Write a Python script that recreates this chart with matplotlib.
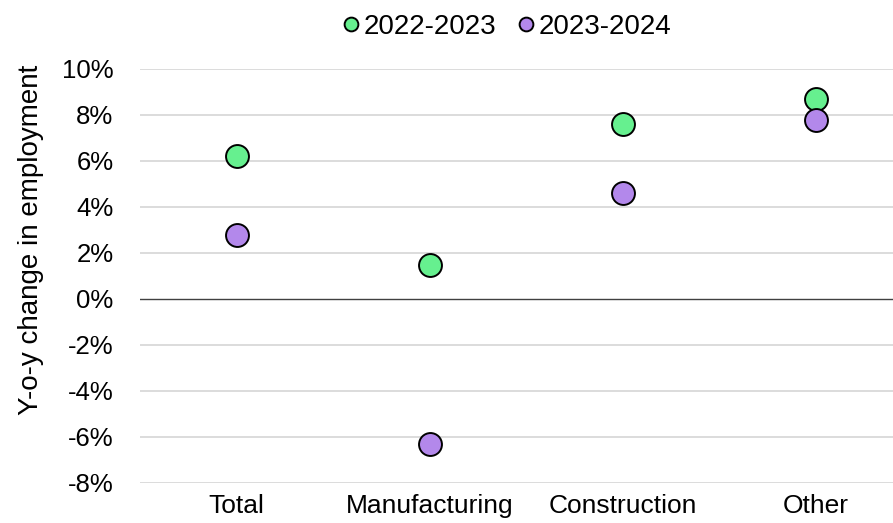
import matplotlib
matplotlib.use("Agg")
import matplotlib.pyplot as plt
from matplotlib.ticker import FuncFormatter

categories = ["Total", "Manufacturing", "Construction", "Other"]
series_names = ["2022-2023", "2023-2024"]
change_2022_2023 = [6.2, 1.5, 7.6, 8.7]
change_2023_2024 = [2.8, -6.3, 4.6, 7.8]
y_ticks = [-8, -6, -4, -2, 0, 2, 4, 6, 8, 10]

colors = ["#66F08F", "#B388EB"]

plt.rcParams["font.family"] = ["Liberation Sans", "DejaVu Sans"]

fig = plt.figure(figsize=(8.93, 5.23), dpi=100)
ax = fig.add_axes([140 / 893, 1 - 483 / 523, 1 - 140 / 893, (483 - 69) / 523])

x = list(range(len(categories)))
for vals, name, col in zip([change_2022_2023, change_2023_2024], series_names, colors):
    ax.plot(x, vals, linestyle="none", marker="o", markersize=16.5,
            markerfacecolor=col, markeredgecolor="black", markeredgewidth=1.4,
            label=name, zorder=3)

ax.set_xlim(-0.5, 3.40)
ax.set_ylim(-8, 10)
ax.set_yticks(y_ticks)
ax.yaxis.set_major_formatter(FuncFormatter(lambda v, p: f"{v:.0f}%"))
ax.set_xticks(x)
ax.set_xticklabels(categories)
ax.tick_params(axis="both", length=0, colors="black")
ax.tick_params(axis="y", pad=19, labelsize=18.5)
ax.tick_params(axis="x", pad=8, labelsize=19)

for y in y_ticks:
    if y == 0:
        ax.axhline(y, color="#404040", linewidth=1.0, zorder=2)
    else:
        ax.axhline(y, color="#D9D9D9", linewidth=1.3, zorder=1)

for s in ax.spines.values():
    s.set_visible(False)

fig.text(31 / 893, 1 - 240 / 523, "Y-o-y change in employment", rotation=90,
         ha="center", va="center", fontsize=20)

leg = fig.legend(loc="center", bbox_to_anchor=(505 / 893, 1 - 27 / 523), ncol=2,
                 frameon=False, fontsize=20, handletextpad=0.0, columnspacing=0.65,
                 markerscale=0.6, handlelength=0.9)

fig.savefig("out.png", dpi=100)
